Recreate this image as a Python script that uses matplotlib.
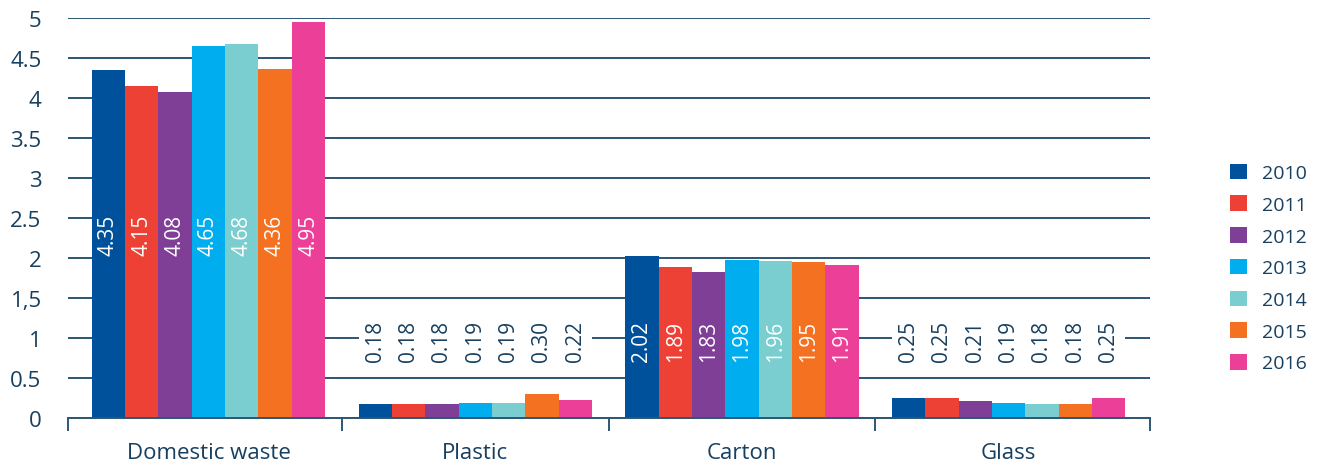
import matplotlib
matplotlib.use("Agg")
import matplotlib.pyplot as plt
from matplotlib.patches import Rectangle, Patch
import numpy as np

categories = ["Domestic waste", "Plastic", "Carton", "Glass"]
years = ["2010", "2011", "2012", "2013", "2014", "2015", "2016"]
v2010 = [4.35, 0.18, 2.02, 0.25]
v2011 = [4.15, 0.18, 1.89, 0.25]
v2012 = [4.08, 0.18, 1.83, 0.21]
v2013 = [4.65, 0.19, 1.98, 0.19]
v2014 = [4.68, 0.19, 1.96, 0.18]
v2015 = [4.36, 0.30, 1.95, 0.18]
v2016 = [4.95, 0.22, 1.91, 0.25]
series = [v2010, v2011, v2012, v2013, v2014, v2015, v2016]
label_texts = [
    ["4.35", "0.18", "2.02", "0.25"],
    ["4.15", "0.18", "1.89", "0.25"],
    ["4.08", "0.18", "1.83", "0.21"],
    ["4.65", "0.19", "1.98", "0.19"],
    ["4.68", "0.19", "1.96", "0.18"],
    ["4.36", "0.30", "1.95", "0.18"],
    ["4.95", "0.22", "1.91", "0.25"],
]
yticks = [0, 0.5, 1, 1.5, 2, 2.5, 3, 3.5, 4, 4.5, 5]
ytick_labels = ["0", "0.5", "1", "1,5", "2", "2.5", "3", "3.5", "4", "4.5", "5"]

colors = ["#00519c", "#ee4135", "#7f3f97", "#00aeef", "#7acecf", "#f37121", "#ec3f97"]
ink = "#173f5f"
grid_col = "#2c5674"

# baseline of the rotated value labels in each group
label_base = [2.04, 0.71, 0.71, 0.71]

plt.rcParams["font.family"] = ["Open Sans", "DejaVu Sans"]

fig = plt.figure(figsize=(13.17, 4.64), dpi=100)
ax = fig.add_axes([0.0516, 0.097, 0.8215, 0.862])

n = len(series)
bw = 0.125
x = np.arange(len(categories))
xmin, xmax = -0.527, 3.53

for i, (vals, col) in enumerate(zip(series, colors)):
    pos = x + (i - (n - 1) / 2) * bw
    ax.bar(pos, vals, width=bw, color=col, linewidth=0, zorder=2, label=years[i])
    for j, (p, v) in enumerate(zip(pos, vals)):
        inside = v > label_base[j] + 0.5
        ax.text(p, label_base[j], label_texts[i][j], rotation=90, ha="center",
                va="bottom", fontsize=15, color="white" if inside else ink,
                zorder=3)

# clear the gridline behind labels that sit above short bars
for j in range(len(categories)):
    if max(s[j] for s in series) < label_base[j]:
        left = x[j] - n * bw / 2
        ax.add_patch(Rectangle((left, 0.93), n * bw, 0.14, facecolor="white",
                               edgecolor="none", zorder=1))

ax.set_xlim(xmin, xmax)
ax.set_ylim(0, 5)
ax.set_yticks(yticks)
ax.set_yticklabels(ytick_labels)
ax.tick_params(axis="y", length=0, pad=19, labelsize=16, labelcolor=ink)

ax.set_axisbelow(True)
ax.yaxis.grid(True, color=grid_col, linewidth=1.4)

ax.set_xticks([xmin, 0.5, 1.5, 2.5, xmax])
ax.set_xticklabels([])
ax.tick_params(axis="x", which="major", length=9, width=1.4, color=grid_col)
ax.set_xticks(x, minor=True)
ax.set_xticklabels(categories, minor=True)
ax.tick_params(axis="x", which="minor", length=0, pad=17, labelsize=16,
               labelcolor=ink)

for s in ["top", "right", "left"]:
    ax.spines[s].set_visible(False)
ax.spines["bottom"].set_color(grid_col)
ax.spines["bottom"].set_linewidth(1.4)

handles = [Patch(facecolor=c, edgecolor="none") for c in colors]
fig.legend(handles, years, loc="center left", bbox_to_anchor=(0.921, 0.42),
           frameon=False, fontsize=14, labelcolor=ink, handlelength=0.85,
           handleheight=0.85, handletextpad=0.75, labelspacing=0.68)

fig.savefig("out.png", dpi=100)
